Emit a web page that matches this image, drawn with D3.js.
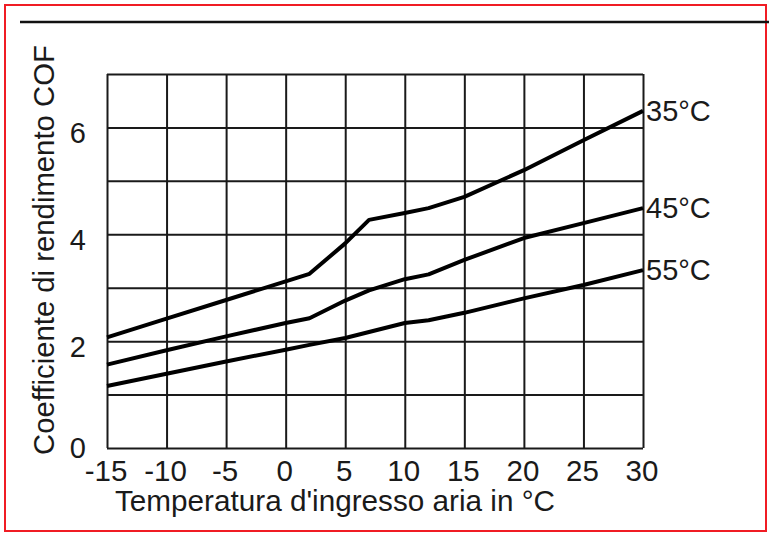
<!DOCTYPE html>
<html>
<head>
<meta charset="utf-8">
<script src="https://cdn.jsdelivr.net/npm/d3@7"></script>
<style>
  html, body { margin: 0; padding: 0; background: #fff; }
  svg { display: block; }
  text { font-family: "Liberation Sans", Arial, sans-serif; fill: #1a1a1a; }
</style>
</head>
<body>
<script>
(function () {
  'use strict';

  // temperature of incoming air (°C)
  const temps = [-15, -10, -5, 0, 2, 5, 7, 10, 12, 15, 20, 25, 30];

  // COF for each flow temperature
  const cof35 = [2.07, 2.42, 2.77, 3.12, 3.26, 3.83, 4.27, 4.40, 4.49, 4.70, 5.20, 5.76, 6.31];
  const cof45 = [1.56, 1.83, 2.09, 2.34, 2.43, 2.76, 2.95, 3.16, 3.25, 3.52, 3.93, 4.21, 4.49];
  const cof55 = [1.16, 1.39, 1.62, 1.84, 1.93, 2.06, 2.17, 2.34, 2.39, 2.53, 2.80, 3.05, 3.33];

  const seriesNames = ['35°C', '45°C', '55°C'];
  const xTicks = [-15, -10, -5, 0, 5, 10, 15, 20, 25, 30];
  const yTicks = [0, 2, 4, 6];
  const yGrid = [0, 1, 2, 3, 4, 5, 6, 7];

  const xTitle = "Temperatura d'ingresso aria in °C";
  const yTitle = 'Coefficiente di rendimento COF';

  const series = [cof35, cof45, cof55];

  var W = 769, H = 534;
  var svg = d3.select('body')
    .append('svg')
    .attr('width', W)
    .attr('height', H);

  // red frame + top rule
  svg.append('rect')
    .attr('x', 5).attr('y', 5)
    .attr('width', 761).attr('height', 526)
    .attr('fill', 'none')
    .attr('stroke', '#f01c24')
    .attr('stroke-width', 2);

  svg.append('line')
    .attr('x1', 20).attr('x2', 769)
    .attr('y1', 22).attr('y2', 22)
    .attr('stroke', '#111')
    .attr('stroke-width', 2.5);

  // scales
  let xScale = d3.scaleLinear()
    .domain([-15, 30])
    .range([107, 643]);

  let yScale = d3.scaleLinear()
    .domain([0, 7])
    .range([448, 74]);

  // ===========================================================================
  // grid
  // ===========================================================================
  svg.append('g')
    .attr('class', 'grid-x')
    .attr('transform', `translate(0,${yScale(0)})`)
    .call(d3.axisBottom(xScale)
      .tickValues(xTicks)
      .tickSize(-(yScale(0) - yScale(7)))
      .tickFormat(''))
    .call(g => g.select('.domain').remove())
    .call(g => g.selectAll('line').attr('stroke', '#1a1a1a').attr('stroke-width', 2));

  svg.append('g')
    .attr('class', 'grid-y')
    .attr('transform', `translate(${xScale(-15)},0)`)
    .call(d3.axisLeft(yScale)
      .tickValues(yGrid)
      .tickSize(-(xScale(30) - xScale(-15)))
      .tickFormat(''))
    .call(g => g.select('.domain').remove())
    .call(g => g.selectAll('line').attr('stroke', '#1a1a1a').attr('stroke-width', 2));

  // ===========================================================================
  // tick labels
  // ===========================================================================
  svg.append('g')
    .selectAll('text')
    .data(xTicks)
    .enter()
    .append('text')
    .attr('x', d => xScale(d) - 1)
    .attr('y', 481)
    .attr('text-anchor', 'middle')
    .attr('font-size', '29.5px')
    .text(d => d);

  svg.append('g')
    .selectAll('text')
    .data(yTicks)
    .enter()
    .append('text')
    .attr('x', 86)
    .attr('y', d => yScale(d) + (d > 0 ? 16 : 10))
    .attr('text-anchor', 'end')
    .attr('font-size', '29px')
    .text(d => d);

  // axis titles
  svg.append('text')
    .attr('x', 115)
    .attr('y', 511)
    .attr('font-size', '29.7px')
    .text(xTitle);

  svg.append('text')
    .attr('transform', 'translate(54,455) rotate(-90)')
    .attr('font-size', '29.3px')
    .text(yTitle);

  // ===========================================================================
  // lines
  // ===========================================================================
  const line = d3.line()
    .x((d, i) => xScale(temps[i]))
    .y(d => yScale(d));

  svg.append('g')
    .selectAll('path')
    .data(series)
    .enter()
    .append('path')
    .attr('d', d => line(d))
    .attr('fill', 'none')
    .attr('stroke', '#000')
    .attr('stroke-width', 4)
    .attr('stroke-linejoin', 'round');

  svg.append('g')
    .selectAll('text')
    .data(series)
    .enter()
    .append('text')
    .attr('x', xScale(30) + 3)
    .attr('y', d => yScale(d[d.length - 1]) + 10)
    .attr('font-size', '29px')
    .text((d, i) => seriesNames[i]);
})();
</script>
</body>
</html>
